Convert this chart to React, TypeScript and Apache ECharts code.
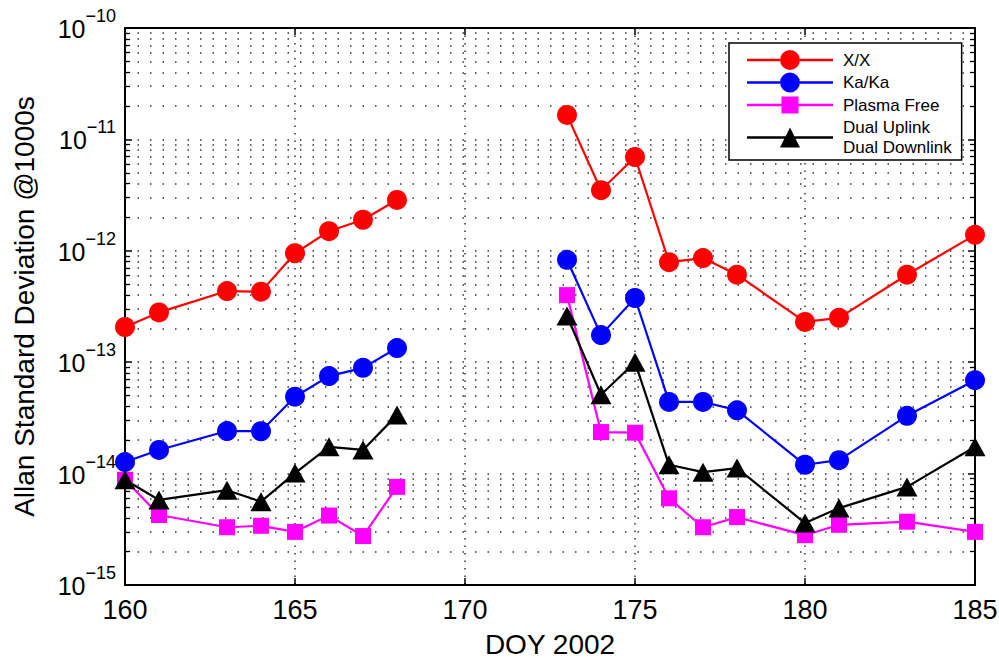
import React, { useEffect, useRef } from 'react';
import * as echarts from 'echarts';

const FONT = '"Liberation Sans", Arial, Helvetica, sans-serif';

// Day of year 2002
const doy = [160, 161, 163, 164, 165, 166, 167, 168, 173, 174, 175, 176, 177, 178, 180, 181, 183, 185];
const breakAt = 170; // no data between 168 and 173 -> line break

const xxValues = [2.07e-13, 2.8e-13, 4.35e-13, 4.3e-13, 9.5e-13, 1.5e-12, 1.9e-12, 2.86e-12, 1.66e-11, 3.5e-12, 6.95e-12, 7.9e-13, 8.6e-13, 6.1e-13, 2.3e-13, 2.5e-13, 6.1e-13, 1.39e-12];
const kakaValues = [1.27e-14, 1.63e-14, 2.41e-14, 2.4e-14, 4.9e-14, 7.5e-14, 8.9e-14, 1.34e-13, 8.3e-13, 1.75e-13, 3.77e-13, 4.4e-14, 4.4e-14, 3.7e-14, 1.2e-14, 1.32e-14, 3.3e-14, 6.9e-14];
const plasmaFreeValues = [8.8e-15, 4.25e-15, 3.3e-15, 3.4e-15, 3.0e-15, 4.2e-15, 2.75e-15, 7.6e-15, 4.0e-13, 2.36e-14, 2.33e-14, 6.0e-15, 3.3e-15, 4.07e-15, 2.8e-15, 3.47e-15, 3.7e-15, 3.0e-15];
const dualValues = [8.8e-15, 5.8e-15, 7.1e-15, 5.6e-15, 1.01e-14, 1.74e-14, 1.63e-14, 3.35e-14, 2.6e-13, 5.1e-14, 1.0e-13, 1.2e-14, 1.03e-14, 1.12e-14, 3.6e-15, 4.9e-15, 7.6e-15, 1.74e-14];

const seriesNames = ['X/X', 'Ka/Ka', 'Plasma Free', 'Dual Uplink\u2009Dual Downlink'];
const legendLabels = ['X/X', 'Ka/Ka', 'Plasma Free', 'Dual Uplink\nDual Downlink'];
const yDecades = [-15, -14, -13, -12, -11, -10];
const minorMultipliers = [2, 3, 4, 5, 6, 7, 8, 9];

const ICON_CIRCLE = 'path://M0,8.75L33,8.75L33,11.25L0,11.25Z M53,8.75L86,8.75L86,11.25L53,11.25Z M33,10A10,10 0 1 1 53,10A10,10 0 1 1 33,10Z';
const ICON_SQUARE = 'path://M43,0L43.01,0Z M43,20L43.01,20Z M0,8.75L34.5,8.75L34.5,11.25L0,11.25Z M51.5,8.75L86,8.75L86,11.25L51.5,11.25Z M34.5,1.5L51.5,1.5L51.5,18.5L34.5,18.5Z';
const ICON_TRIANGLE = 'path://M0,8.75L38.5,8.75L38.5,11.25L0,11.25Z M47.5,8.75L86,8.75L86,11.25L47.5,11.25Z M43,0L53,20L33,20Z';

function toPairs(values: number[]) {
  const out: any[] = [];
  doy.forEach((d, i) => {
    out.push([d, values[i]]);
    if (d < breakAt && doy[i + 1] !== undefined && doy[i + 1] > breakAt) out.push([breakAt, '-']);
  });
  return out;
}

export default function App() {
  const ref = useRef<HTMLDivElement>(null);
  useEffect(() => {
    if (!ref.current) return;
    const chart = echarts.init(ref.current, null, { renderer: 'svg' });

    const minorValues: number[] = [];
    yDecades.slice(0, -1).forEach((e) => minorMultipliers.forEach((m) => minorValues.push(m * Math.pow(10, e))));

    const dotted = { color: '#333', width: 1.5, type: [1.5, 11] as any };
    const gridLines: any[] = minorValues.map((v) => [
      { coord: [160, v], lineStyle: dotted },
      { coord: [185, v] },
    ]);
    const tickStyle = { color: '#000', width: 1.3, type: 'solid' };
    const tickLines: any[] = [];
    minorValues.forEach((v) => {
      tickLines.push([{ coord: [160, v], lineStyle: tickStyle }, { coord: [160.15, v] }]);
      tickLines.push([{ coord: [184.85, v], lineStyle: tickStyle }, { coord: [185, v] }]);
    });

    const lineSeries = (name: string, values: number[], color: string, symbol: string, size: number | number[]) => ({
      name,
      type: 'line',
      data: toPairs(values),
      connectNulls: false,
      symbol,
      symbolSize: size,
      showAllSymbol: true,
      lineStyle: { color, width: 2.2 },
      itemStyle: { color, borderWidth: 0 },
      emphasis: { disabled: true },
      z: 3,
    });

    const axisLineStyle = { show: true, onZero: false, lineStyle: { color: '#000', width: 2 } };
    const tickInside = { show: true, inside: true, length: 7, lineStyle: { color: '#000', width: 1.5 } };

    chart.setOption({
      animation: false,
      backgroundColor: '#fff',
      grid: { left: 125, right: 24, top: 28, bottom: 73, outerBoundsMode: 'none', containLabel: false },
      legend: {
        data: [
          { name: seriesNames[0], icon: ICON_CIRCLE },
          { name: seriesNames[1], icon: ICON_CIRCLE },
          { name: seriesNames[2], icon: ICON_SQUARE },
          { name: seriesNames[3], icon: ICON_TRIANGLE },
        ],
        formatter: (n: string) => legendLabels[seriesNames.indexOf(n)] ?? n,
        orient: 'vertical',
        left: 729,
        top: 43,
        itemWidth: 86,
        itemHeight: 20,
        itemGap: 2.5,
        padding: [7, 10, 2.5, 18],
        borderColor: '#000',
        borderWidth: 1.5,
        backgroundColor: '#fff',
        selectedMode: false,
        itemStyle: { borderWidth: 0 },
        textStyle: { color: '#000', fontSize: 17, lineHeight: 20, fontFamily: FONT, padding: [0, 0, 0, 5] },
        z: 10,
      },
      xAxis: [
        {
          type: 'value', min: 160, max: 185, interval: 5, position: 'bottom',
          axisLine: axisLineStyle, axisTick: tickInside,
          axisLabel: { color: '#000', fontSize: 27, fontFamily: FONT, margin: 11 },
          splitLine: { show: true, lineStyle: { color: '#333', width: 1.5, type: [1.5, 6] } },
          name: 'DOY 2002', nameLocation: 'middle', nameGap: 45,
          nameTextStyle: { color: '#000', fontSize: 28, fontFamily: FONT },
        },
        {
          type: 'value', min: 160, max: 185, interval: 5, position: 'top',
          axisLine: axisLineStyle, axisTick: tickInside,
          axisLabel: { show: false }, splitLine: { show: false },
        },
      ],
      yAxis: [
        {
          type: 'log', logBase: 10, min: 1e-15, max: 1e-10, splitNumber: 5, position: 'left',
          axisLine: axisLineStyle, axisTick: tickInside,
          axisLabel: {
            margin: 9,
            padding: [0, 0, 7.5, 0],
            formatter: (v: number) => `{b|10}{e|\u2212${Math.abs(Math.round(Math.log10(v)))}}`,
            rich: {
              b: { fontSize: 25, fontFamily: FONT, color: '#000', verticalAlign: 'bottom', lineHeight: 25 },
              e: { fontSize: 18, fontFamily: FONT, color: '#000', verticalAlign: 'top', lineHeight: 34.5 },
            },
          },
          splitLine: { show: true, lineStyle: dotted },
          name: 'Allan Standard Deviation @1000s', nameLocation: 'middle', nameGap: 87,
          nameTextStyle: { color: '#000', fontSize: 28, fontFamily: FONT },
        },
        {
          type: 'log', logBase: 10, min: 1e-15, max: 1e-10, splitNumber: 5, position: 'right',
          axisLine: axisLineStyle, axisTick: tickInside,
          axisLabel: { show: false }, splitLine: { show: false },
        },
      ],
      series: [
        {
          name: 'grid', type: 'line', data: [[160, 1e-15], [185, 1e-15]], z: 1, silent: true,
          symbol: 'none', lineStyle: { opacity: 0 }, emphasis: { disabled: true }, tooltip: { show: false },
          markLine: {
            silent: true, z: 1, symbol: ['none', 'none'], label: { show: false },
            emphasis: { disabled: true }, animation: false,
            data: gridLines.concat(tickLines),
          },
        },
        lineSeries(seriesNames[0], xxValues, '#ff0000', 'circle', 20),
        lineSeries(seriesNames[1], kakaValues, '#0000ff', 'circle', 20),
        lineSeries(seriesNames[2], plasmaFreeValues, '#ff00ff', 'rect', 16),
        lineSeries(seriesNames[3], dualValues, '#000000', 'triangle', [21, 19]),
      ],
    });
    return () => chart.dispose();
  }, []);
  return <div ref={ref} style={{ position: 'fixed', left: 0, top: 0, width: 999, height: 658 }} />;
}
